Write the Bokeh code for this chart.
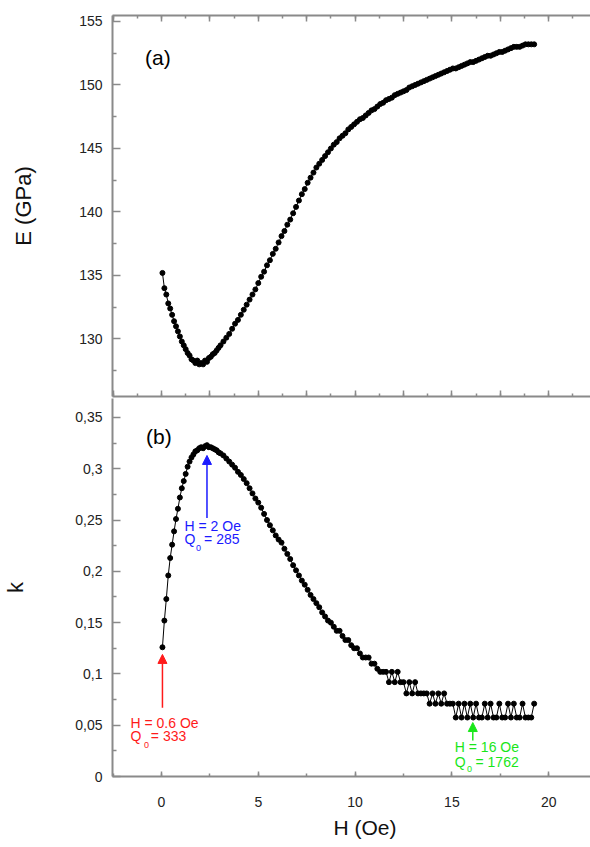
from bokeh.plotting import figure
from bokeh.layouts import column
from bokeh.models import (Range1d, LinearAxis, FixedTicker, SingleIntervalTicker,
                          CustomJSTickFormatter, CustomLabelingPolicy, Arrow, NormalHead, Title)
from bokeh.core.properties import value
from bokeh.embed import file_html
from bokeh.resources import INLINE

# ---------------- data ----------------
H_oe = [0.05, 0.15, 0.25, 0.35, 0.45, 0.55, 0.65, 0.75, 0.85, 0.95,
        1.05, 1.15, 1.25, 1.35, 1.45, 1.55, 1.65, 1.75, 1.85, 1.95,
        2.05, 2.15, 2.25, 2.35, 2.45, 2.55, 2.65, 2.75, 2.85, 2.95,
        3.05, 3.2, 3.35, 3.5, 3.65, 3.8, 3.95, 4.1, 4.25, 4.4,
        4.55, 4.7, 4.85, 5.0, 5.15, 5.3, 5.45, 5.6, 5.75, 5.9,
        6.05, 6.2, 6.35, 6.5, 6.65, 6.8, 6.95, 7.1, 7.25, 7.4,
        7.55, 7.7, 7.85, 8.0, 8.15, 8.3, 8.45, 8.6, 8.75, 8.9,
        9.05, 9.2, 9.35, 9.5, 9.65, 9.8, 9.95, 10.1, 10.25, 10.4,
        10.55, 10.7, 10.85, 11.0, 11.15, 11.3, 11.45, 11.6, 11.75, 11.9,
        12.05, 12.2, 12.35, 12.5, 12.65, 12.8, 12.95, 13.1, 13.25, 13.4,
        13.55, 13.7, 13.85, 14.0, 14.15, 14.3, 14.45, 14.6, 14.75, 14.9,
        15.05, 15.2, 15.35, 15.5, 15.65, 15.8, 15.95, 16.1, 16.25, 16.4,
        16.55, 16.7, 16.85, 17.0, 17.15, 17.3, 17.45, 17.6, 17.75, 17.9,
        18.05, 18.2, 18.35, 18.5, 18.65, 18.8, 18.95, 19.1, 19.25]

E_gpa = [135.2, 134.0, 133.5, 132.8, 132.4, 131.9, 131.4, 131.0, 130.6, 130.2,
         129.8, 129.5, 129.2, 128.9, 128.7, 128.4, 128.3, 128.1, 128.3, 128.0,
         128.1, 128.0, 128.3, 128.2, 128.5, 128.6, 128.8, 128.9, 129.1, 129.3,
         129.5, 129.8, 130.1, 130.4, 130.8, 131.2, 131.5, 131.9, 132.3, 132.7,
         133.1, 133.5, 133.9, 134.4, 134.9, 135.3, 135.8, 136.2, 136.7, 137.1,
         137.6, 138.1, 138.5, 139.0, 139.4, 139.9, 140.4, 140.9, 141.4, 141.8,
         142.3, 142.7, 143.1, 143.5, 143.8, 144.1, 144.4, 144.7, 145.0, 145.3,
         145.5, 145.8, 146.0, 146.2, 146.5, 146.7, 146.9, 147.1, 147.3, 147.4,
         147.6, 147.8, 148.0, 148.1, 148.3, 148.5, 148.6, 148.8, 148.9, 149.0,
         149.2, 149.3, 149.4, 149.5, 149.6, 149.8, 149.9, 150.0, 150.1, 150.2,
         150.3, 150.4, 150.5, 150.6, 150.7, 150.8, 150.9, 151.0, 151.1, 151.2,
         151.3, 151.3, 151.4, 151.5, 151.6, 151.7, 151.8, 151.8, 151.9, 152.0,
         152.1, 152.2, 152.3, 152.3, 152.4, 152.5, 152.6, 152.6, 152.7, 152.8,
         152.9, 153.0, 153.0, 153.0, 153.1, 153.2, 153.2, 153.2, 153.2]

k_coef = [0.126, 0.152, 0.173, 0.196, 0.213, 0.226, 0.239, 0.251, 0.261, 0.272,
          0.281, 0.288, 0.295, 0.302, 0.307, 0.311, 0.314, 0.317, 0.318, 0.320,
          0.321, 0.320, 0.322, 0.323, 0.321, 0.321, 0.320, 0.319, 0.318, 0.316,
          0.315, 0.313, 0.310, 0.307, 0.304, 0.301, 0.297, 0.294, 0.290, 0.286,
          0.281, 0.276, 0.271, 0.267, 0.262, 0.256, 0.250, 0.245, 0.240, 0.235,
          0.231, 0.228, 0.222, 0.217, 0.212, 0.206, 0.201, 0.196, 0.191, 0.187,
          0.182, 0.177, 0.173, 0.169, 0.165, 0.160, 0.156, 0.152, 0.150, 0.146,
          0.142, 0.142, 0.137, 0.133, 0.133, 0.128, 0.125, 0.125, 0.120, 0.116,
          0.116, 0.116, 0.110, 0.110, 0.105, 0.102, 0.102, 0.102, 0.092, 0.102,
          0.092, 0.102, 0.092, 0.092, 0.081, 0.092, 0.081, 0.092, 0.081, 0.081,
          0.081, 0.081, 0.071, 0.081, 0.071, 0.081, 0.071, 0.081, 0.071, 0.071,
          0.071, 0.0575, 0.071, 0.0575, 0.071, 0.0575, 0.071, 0.0575, 0.071, 0.0575,
          0.0575, 0.071, 0.0575, 0.071, 0.0575, 0.0575, 0.071, 0.0575, 0.0575, 0.071,
          0.0575, 0.071, 0.0575, 0.0575, 0.071, 0.0575, 0.0575, 0.0575, 0.071]

E_ticks = [130, 135, 140, 145, 150, 155]
E_minor = [127.5, 132.5, 137.5, 142.5, 147.5, 152.5]
k_ticks = [0, 0.05, 0.1, 0.15, 0.2, 0.25, 0.3, 0.35]
k_minor = [0.025, 0.075, 0.125, 0.175, 0.225, 0.275, 0.325]

panel_labels = ["(a)", "(b)"]
x_title = "H (Oe)"
ann_colors = ["#ff1a1a", "#1a1aff", "#19e619"]
ann_line1 = ["H = 0.6 Oe", "H = 2 Oe", "H = 16 Oe"]
ann_q = ["333", "285", "1762"]

FONT = "Liberation Sans"
GRAY = "#8a8a8a"

xr = Range1d(-2.53, 22.16)


def style_axis(ax, major_in, minor_in, labels=True):
    ax.axis_line_color = GRAY
    ax.axis_line_width = 2
    ax.major_tick_line_color = GRAY
    ax.minor_tick_line_color = GRAY
    ax.major_tick_line_width = 1.5
    ax.minor_tick_line_width = 1.5
    ax.major_tick_in = major_in
    ax.major_tick_out = 0
    ax.minor_tick_in = minor_in
    ax.minor_tick_out = 0
    ax.major_label_text_font = FONT
    ax.major_label_text_color = "#222222"
    ax.axis_label_text_font = FONT
    ax.axis_label_text_font_style = "normal"
    ax.axis_label_text_color = "#111111"
    if not labels:
        ax.major_label_text_font_size = "0px"
        ax.major_label_standoff = 0
        ax.major_label_policy = CustomLabelingPolicy(code="return new Set()")


# ---------------- top panel (a) ----------------
top = figure(width=590, height=398, x_range=xr, y_range=Range1d(125.47, 155.47),
             output_backend="svg", toolbar_location=None, x_axis_location="above",
             min_border_left=111, min_border_right=0, min_border_top=15, min_border_bottom=2)
top.outline_line_color = None
top.grid.visible = False

ax_top = top.xaxis[0]
ax_top.ticker = SingleIntervalTicker(interval=2.5, num_minor_ticks=2)
style_axis(ax_top, 6, 3, labels=False)

ax_mid = LinearAxis(ticker=SingleIntervalTicker(interval=2.5, num_minor_ticks=2))
style_axis(ax_mid, 6, 3, labels=False)
top.add_layout(ax_mid, "below")

ay_top = top.yaxis[0]
ay_top.ticker = FixedTicker(ticks=E_ticks, minor_ticks=E_minor)
style_axis(ay_top, 8, 4)
ay_top.major_label_text_font_size = "14px"
ay_top.major_label_standoff = 10
ay_top.axis_label = "E (GPa)"
ay_top.axis_label_text_font_size = "22px"
ay_top.axis_label_standoff = 40

top.line(H_oe, E_gpa, line_color="black", line_width=1)
top.scatter(H_oe, E_gpa, size=5, color="black")
top.text(x=[-0.85], y=[152.2], text=[panel_labels[0]], text_font=value(FONT),
         text_font_size="21px", text_baseline="middle", text_align="left", text_color="black")

# ---------------- bottom panel (b) ----------------
bot = figure(width=590, height=449, x_range=xr, y_range=Range1d(0, 0.3685),
             output_backend="svg", toolbar_location=None,
             min_border_left=111, min_border_right=0, min_border_top=0, min_border_bottom=71)
bot.outline_line_color = None
bot.grid.visible = False

ax_bot = bot.xaxis[0]
ax_bot.ticker = SingleIntervalTicker(interval=5, num_minor_ticks=2)
style_axis(ax_bot, 5, 3)
ax_bot.major_label_text_font_size = "14px"
ax_bot.major_label_standoff = 20

# x-axis title, placed as a title below the axis (centred on the original wider frame)
bot.add_layout(Title(text=x_title, align="left", offset=221, standoff=8,
                     text_font=FONT, text_font_size="21px", text_font_style="normal",
                     text_color="#111111"), "below")

ay_bot = bot.yaxis[0]
ay_bot.ticker = FixedTicker(ticks=k_ticks, minor_ticks=k_minor)
style_axis(ay_bot, 8, 4)
ay_bot.formatter = CustomJSTickFormatter(code="""
    let s = tick.toFixed(2).replace(/0+$/, '').replace(/\\.$/, '');
    return s.replace('.', ',');
""")
ay_bot.major_label_text_font_size = "14px"
ay_bot.major_label_standoff = 10
ay_bot.axis_label = "k"
ay_bot.axis_label_text_font_size = "22px"
ay_bot.axis_label_standoff = 44

bot.line(H_oe, k_coef, line_color="black", line_width=1)
bot.scatter(H_oe, k_coef, size=5, color="black")
bot.text(x=[-0.8], y=[0.331], text=[panel_labels[1]], text_font=value(FONT),
         text_font_size="21px", text_baseline="middle", text_align="left", text_color="black")

# annotations: arrows + texts
arrows = [  # (x, y_start, y_end)
    (0.05, 0.067, 0.119),
    (2.35, 0.252, 0.313),
    (16.08, 0.035, 0.0526),
]
for (xa, ys, ye), c in zip(arrows, ann_colors):
    bot.add_layout(Arrow(end=NormalHead(size=9, fill_color=c, line_color=c),
                         x_start=xa, y_start=ys, x_end=xa, y_end=ye,
                         line_color=c, line_width=1.5))

line1_pos = [(-1.6, 0.0517), (1.19, 0.2446), (15.15, 0.029)]
q_pos = [(-1.6, 0.039), (1.19, 0.232), (15.15, 0.0146)]
sub_pos = [(-0.9, 0.031), (1.78, 0.2225), (15.78, 0.0075)]
eq_pos = [(-0.55, 0.039), (2.2, 0.232), (16.22, 0.0146)]

for i, c in enumerate(ann_colors):
    bot.text(x=[line1_pos[i][0]], y=[line1_pos[i][1]], text=[ann_line1[i]],
             text_font=value(FONT), text_font_size="14px", text_color=c,
             text_baseline="middle", text_align="left")
    bot.text(x=[q_pos[i][0]], y=[q_pos[i][1]], text=["Q"],
             text_font=value(FONT), text_font_size="14px", text_color=c,
             text_baseline="middle", text_align="left")
    bot.text(x=[sub_pos[i][0]], y=[sub_pos[i][1]], text=["0"],
             text_font=value(FONT), text_font_size="9px", text_color=c,
             text_baseline="middle", text_align="left")
    bot.text(x=[eq_pos[i][0]], y=[eq_pos[i][1]], text=["= " + ann_q[i]],
             text_font=value(FONT), text_font_size="14px", text_color=c,
             text_baseline="middle", text_align="left")

layout = column(top, bot, spacing=0)
open("out.html", "w").write(file_html(layout, INLINE))
